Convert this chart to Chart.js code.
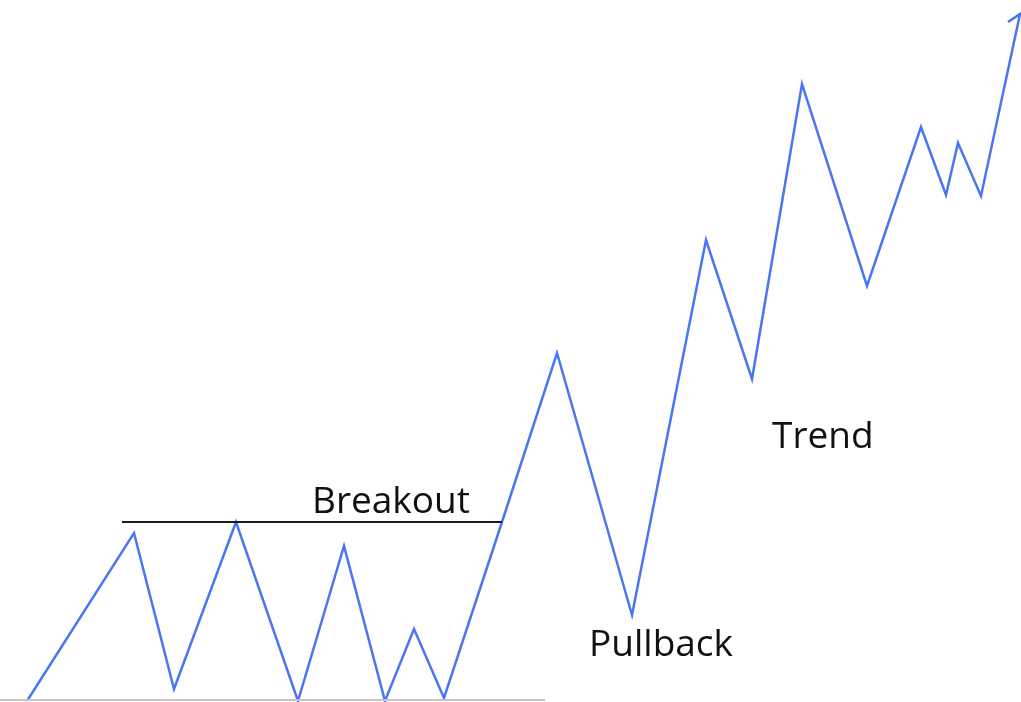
<!DOCTYPE html>
<html>
<head>
<meta charset="utf-8">
<script src="https://cdn.jsdelivr.net/npm/chart.js@4"></script>
<style>
    html, body { margin: 0; padding: 0; background: #ffffff; }
    #wrap { width: 1021px; height: 702px; position: relative; }
</style>
</head>
<body>
<div id="wrap"><canvas id="chart"></canvas></div>
<script>
// price path (x = time position, y = price level)
const priceX = [27, 134, 174, 236, 298, 344, 385, 414, 444, 502, 557, 632, 706, 752, 802, 867, 921, 946, 958, 981, 1020, 1008];
const priceY = [1, 169, 13, 180, 1, 156, 1, 73, 4, 180, 349, 87, 462, 323, 618, 416, 575, 507, 559, 506, 688, 680];

// resistance level broken out of, and the base level
const breakoutX = [122, 502];
const breakoutY = [180, 180];
const baseX = [0, 545];
const baseY = [2, 2];

const labels = [
    { text: 'Breakout', x: 312, y: 189 },
    { text: 'Pullback', x: 589, y: 46 },
    { text: 'Trend', x: 772, y: 254 }
];

const toPoints = (xs, ys) => xs.map((x, i) => ({ x: x, y: ys[i] }));

// draws the text labels at data positions
const labelPlugin = {
    id: 'labels',
    afterDatasetsDraw(chart) {
        const ctx = chart.ctx;
        const xs = chart.scales.x;
        const ys = chart.scales.y;
        ctx.save();
        ctx.fillStyle = '#111111';
        ctx.font = '37px "Open Sans", sans-serif';
        ctx.textBaseline = 'alphabetic';
        ctx.textAlign = 'left';
        labels.forEach(l => {
            ctx.fillText(l.text, xs.getPixelForValue(l.x), ys.getPixelForValue(l.y));
        });
        ctx.restore();
    }
};

new Chart(document.getElementById('chart').getContext('2d'), {
    type: 'scatter',
    data: {
        datasets: [
            {
                data: toPoints(baseX, baseY),
                showLine: true,
                borderColor: '#c4c4c4',
                borderWidth: 2,
                pointRadius: 0
            },
            {
                data: toPoints(breakoutX, breakoutY),
                showLine: true,
                borderColor: '#1a1a1a',
                borderWidth: 2,
                pointRadius: 0
            },
            {
                data: toPoints(priceX, priceY),
                showLine: true,
                borderColor: '#4a76f3',
                borderWidth: 2.5,
                borderJoinStyle: 'miter',
                pointRadius: 0,
                tension: 0
            }
        ]
    },
    options: {
        responsive: true,
        maintainAspectRatio: false,
        animation: false,
        clip: false,
        layout: { padding: 0 },
        scales: {
            x: { type: 'linear', min: 0, max: 1021, display: false },
            y: { type: 'linear', min: 0, max: 702, display: false }
        },
        plugins: {
            legend: { display: false },
            tooltip: { enabled: false }
        }
    },
    plugins: [labelPlugin]
});
</script>
</body>
</html>
